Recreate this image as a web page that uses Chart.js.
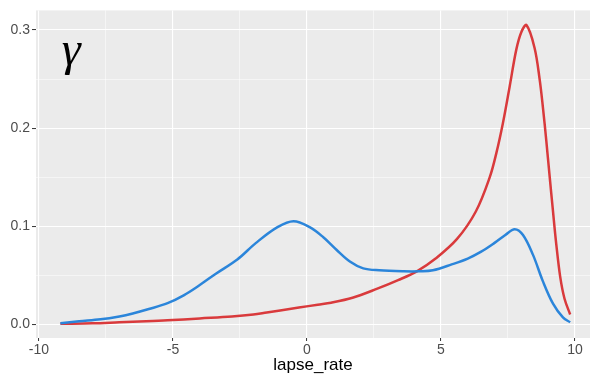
<!DOCTYPE html>
<html>
<head>
<meta charset="utf-8">
<script src="https://cdn.jsdelivr.net/npm/chart.js@4/dist/chart.umd.min.js"></script>
<style>
  body { margin: 0; background: #fff; }
  canvas { display: block; }
</style>
</head>
<body>
<canvas id="density-chart" width="592" height="379"></canvas>
<script>
// density of lapse_rate, two groups
const blueX = [-9.2, -8.5, -7.7, -7.0, -6.5, -5.9, -5.2, -4.6, -4.0, -3.4, -2.6, -1.9, -1.1, -0.5, 0.1, 0.6, 1.1, 1.6, 2.1, 2.7, 3.6, 4.2, 4.7, 5.4, 6.0, 6.5, 7.0, 7.4, 7.75, 8.06, 8.43, 8.8, 9.18, 9.55, 9.82];
const blueY = [0.001, 0.003, 0.005, 0.008, 0.011, 0.0155, 0.0215, 0.0295, 0.040, 0.0515, 0.066, 0.083, 0.099, 0.105, 0.099, 0.089, 0.076, 0.064, 0.057, 0.055, 0.054, 0.054, 0.055, 0.061, 0.067, 0.074, 0.083, 0.091, 0.097, 0.091, 0.071, 0.044, 0.021, 0.007, 0.002];

const redX = [-9.2, -8.0, -7.0, -6.0, -5.2, -4.0, -2.8, -2.0, -1.5, -1.0, -0.3, 0.4, 0.9, 1.7, 2.6, 3.4, 4.1, 4.8, 5.6, 6.3, 6.82, 7.07, 7.31, 7.56, 7.81, 8.0, 8.19, 8.49, 8.68, 8.8, 8.93, 9.05, 9.18, 9.3, 9.45, 9.61, 9.82];
const redY = [0.0005, 0.001, 0.002, 0.003, 0.004, 0.006, 0.008, 0.010, 0.012, 0.014, 0.017, 0.020, 0.022, 0.027, 0.036, 0.045, 0.054, 0.067, 0.087, 0.115, 0.150, 0.175, 0.205, 0.242, 0.280, 0.298, 0.305, 0.282, 0.250, 0.222, 0.187, 0.152, 0.115, 0.082, 0.048, 0.026, 0.010];

const xTicks = [-10, -7.5, -5, -2.5, 0, 2.5, 5, 7.5, 10];
const yTicks = [0, 0.05, 0.1, 0.15, 0.2, 0.25, 0.3];

const toPoints = (xs, ys) => xs.map((x, i) => ({ x: x, y: ys[i] }));
const isMajor = (v, step) => Math.abs(v / step - Math.round(v / step)) < 1e-6;

const panelBg = {
    id: 'panelBg',
    beforeDraw(chart) {
        const { ctx, chartArea: a } = chart;
        ctx.save();
        ctx.fillStyle = '#EBEBEB';
        ctx.fillRect(a.left, a.top, a.right - a.left, a.bottom - a.top);
        ctx.restore();
    }
};

const gammaLabel = {
    id: 'gammaLabel',
    afterDatasetsDraw(chart) {
        const { ctx, scales } = chart;
        ctx.save();
        ctx.fillStyle = '#000';
        ctx.font = 'italic 48px "Liberation Serif"';
        ctx.textAlign = 'center';
        ctx.textBaseline = 'alphabetic';
        ctx.fillText('γ', scales.x.getPixelForValue(-8.8), scales.y.getPixelForValue(0.264));
        ctx.restore();
    }
};

const ctx = document.getElementById('density-chart').getContext('2d');

const densityChart = new Chart(ctx, {
    type: 'line',
    data: {
        datasets: [{
            label: 'blue',
            data: toPoints(blueX, blueY),
            borderColor: '#2B85DA',
            borderWidth: 2.5,
            pointRadius: 0,
            tension: 0.35,
            fill: false
        },
        {
            label: 'red',
            data: toPoints(redX, redY),
            borderColor: '#D93A3C',
            borderWidth: 2.5,
            pointRadius: 0,
            tension: 0.35,
            fill: false
        }]
    },
    options: {
        responsive: false,
        animation: false,
        layout: { padding: { top: 4, right: 2, left: 0, bottom: 0 } },
        plugins: {
            legend: { display: false },
            tooltip: { enabled: false }
        },
        scales: {
            x: {
                type: 'linear',
                min: -10.11,
                max: 10.56,
                afterBuildTicks: (s) => { s.ticks = xTicks.map(v => ({ value: v })); },
                afterFit: (s) => { s.height = 41; },
                border: { display: false },
                grid: {
                    color: '#FFFFFF',
                    lineWidth: (c) => isMajor(c.tick.value, 5) ? 1.1 : 0.5,
                    tickColor: (c) => isMajor(c.tick.value, 5) ? '#333333' : 'rgba(0,0,0,0)',
                    tickLength: 3,
                    tickWidth: 1
                },
                ticks: {
                    color: '#4D4D4D',
                    font: { family: 'Liberation Sans', size: 14 },
                    padding: 1,
                    maxRotation: 0,
                    autoSkip: false,
                    callback: (v) => isMajor(v, 5) ? String(v) : ''
                },
                title: {
                    display: true,
                    text: 'lapse_rate',
                    color: '#000',
                    font: { family: 'Liberation Sans', size: 17 },
                    padding: { top: 0, bottom: 3 }
                }
            },
            y: {
                type: 'linear',
                min: -0.014,
                max: 0.32,
                afterBuildTicks: (s) => { s.ticks = yTicks.map(v => ({ value: v })); },
                afterFit: (s) => { s.width = 36; },
                border: { display: false },
                grid: {
                    color: '#FFFFFF',
                    lineWidth: (c) => isMajor(c.tick.value, 0.1) ? 1.1 : 0.5,
                    tickColor: (c) => isMajor(c.tick.value, 0.1) ? '#333333' : 'rgba(0,0,0,0)',
                    tickLength: 4,
                    tickWidth: 1
                },
                ticks: {
                    color: '#4D4D4D',
                    font: { family: 'Liberation Sans', size: 14 },
                    padding: 2,
                    autoSkip: false,
                    callback: (v) => isMajor(v, 0.1) ? v.toFixed(1) : ''
                }
            }
        }
    },
    plugins: [panelBg, gammaLabel]
});
</script>
</body>
</html>
